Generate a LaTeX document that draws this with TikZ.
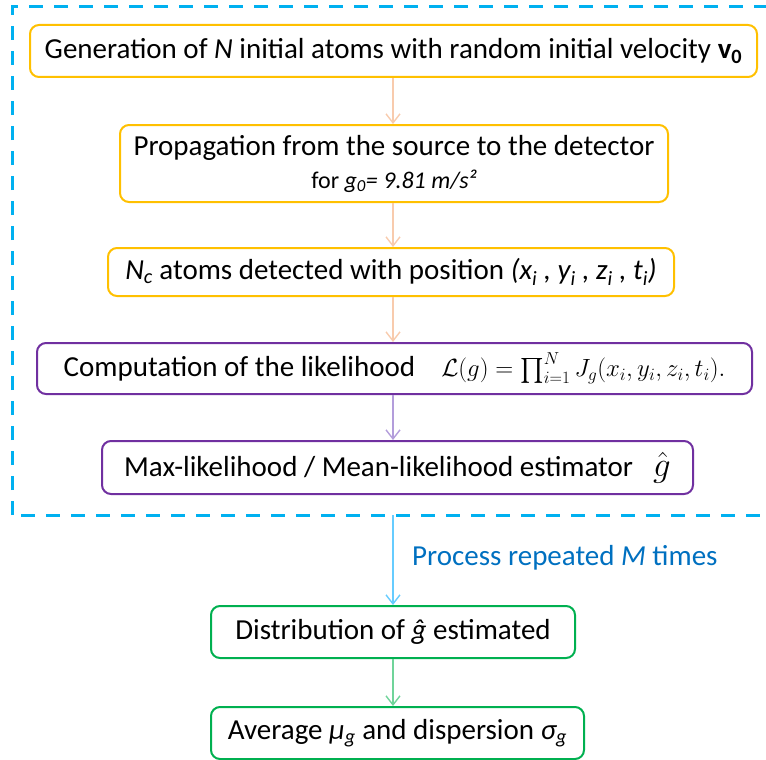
\documentclass[tikz,border=0pt]{standalone}
\usepackage{amsmath}
\usepackage{fontspec}
\setmainfont{Carlito}
\usetikzlibrary{arrows.meta}
\definecolor{gold}{HTML}{FFC000}
\definecolor{peach}{HTML}{F8CBAD}
\definecolor{purp}{HTML}{7030A0}
\definecolor{purpl}{HTML}{B39DDB}
\definecolor{cyanb}{HTML}{00B0F0}
\definecolor{skyl}{HTML}{66CCFF}
\definecolor{grn}{HTML}{00B050}
\definecolor{grnl}{HTML}{70D49A}
\definecolor{lblue}{HTML}{0070C0}
\tikzset{
  x=1pt, y=-1pt,
  box/.style={draw, line width=2pt, rounded corners=9pt, fill=white, align=center, inner sep=0pt,
    font=\fontsize{29}{33}\selectfont},
  orbox/.style={box, draw=gold},
  pubox/.style={box, draw=purp},
  grbox/.style={box, draw=grn},
  conn/.style={line width=1.4pt, -{Straight Barb[length=9pt,width=14pt,line width=1.4pt]}},
}
\begin{document}
\begin{tikzpicture}
\useasboundingbox (0,0) rectangle (766,760);
\draw[cyanb, line width=3pt, dash pattern=on 14pt off 11pt] (12,515) -- (12,7) -- (790,7);
\draw[cyanb, line width=3pt, dash pattern=on 14pt off 11pt] (21,515) -- (790,515);
\coordinate (c) at (393,0);
\coordinate (dashb) at (393,515);
\node[orbox, minimum width=727pt, minimum height=52pt] (gen) at (393.5,51)
  {Generation of \textit{N} initial atoms with random initial velocity \textbf{v}\textsubscript{\textbf{0}}};
\node[orbox, minimum width=548pt, minimum height=77pt] (prop) at (394,163.5)
  {Propagation from the source to the detector\\[0pt]
   {\fontsize{24}{28}\selectfont for \textit{g\textsubscript{0}= 9.81 m/s²}}};
\node[orbox, minimum width=566pt, minimum height=48pt] (det) at (391,272)
  {\textit{N\textsubscript{c}} atoms detected with position \textit{(x\textsubscript{i} , y\textsubscript{i} , z\textsubscript{i} , t\textsubscript{i})}};
\node[pubox, minimum width=715pt, minimum height=51pt] (comp) at (394.5,368.5)
  {Computation of the likelihood\hspace{26pt}{\fontsize{27}{30}\selectfont $\mathcal{L}(g)=\prod_{i=1}^{N} J_g(x_i,y_i,z_i,t_i).$}};
\node[pubox, minimum width=591pt, minimum height=53pt] (est) at (397.5,467.5)
  {Max-likelihood / Mean-likelihood estimator\hspace{20pt}{\fontsize{24}{28}\selectfont\scalebox{1.4}{$\hat{g}$}}};
\node[grbox, minimum width=364pt, minimum height=52pt] (dist) at (393,632)
  {Distribution of \textit{ĝ} estimated};
\node[grbox, minimum width=373pt, minimum height=52pt] (avg) at (397.5,733)
  {Average \textit{μ\textsubscript{g}} and dispersion \textit{σ\textsubscript{g}}};
\node[anchor=west, text=lblue, inner sep=0pt, font=\fontsize{29}{33}\selectfont] (lbl) at (412,558)
  {Process repeated \textit{M} times};
\draw[conn, peach] (gen.south -| c) -- (prop.north -| c);
\draw[conn, peach] (prop.south -| c) -- (det.north -| c);
\draw[conn, peach] (det.south -| c) -- (comp.north -| c);
\draw[conn, purpl] (comp.south -| c) -- (est.north -| c);
\draw[conn, skyl] (dashb) -- (dist.north -| c);
\draw[conn, grnl] (dist.south -| c) -- (avg.north -| c);
\end{tikzpicture}
\end{document}
